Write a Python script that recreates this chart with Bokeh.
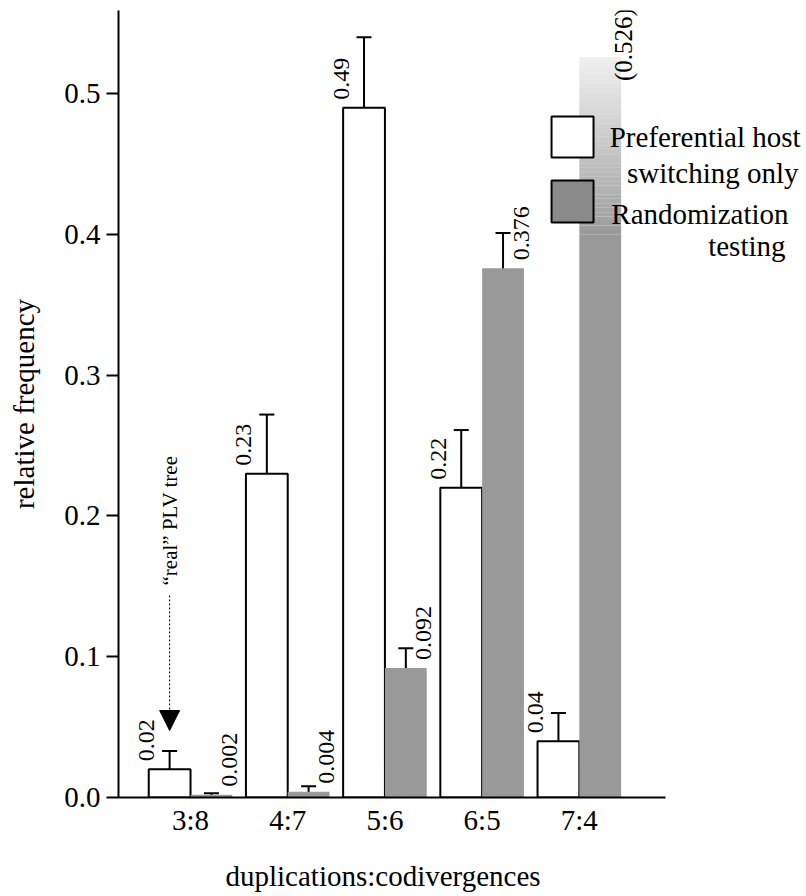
import numpy as np
from bokeh.plotting import figure
from bokeh.models import (ColumnDataSource, Range1d, FixedTicker, Whisker, TeeHead,
                          Arrow, NormalHead, PrintfTickFormatter, Title)
from bokeh.core.properties import value
from bokeh.embed import file_html
from bokeh.resources import INLINE

# ---------------- data ----------------
categories = ["3:8", "4:7", "5:6", "6:5", "7:4"]
pref_values = [0.02, 0.23, 0.49, 0.22, 0.04]
pref_errors = [0.013, 0.042, 0.05, 0.041, 0.02]
pref_labels = ["0.02", "0.23", "0.49", "0.22", "0.04"]
rand_values = [0.002, 0.004, 0.092, 0.376, 0.526]
rand_errors = [0.001, 0.004, 0.014, 0.025, None]
rand_labels = ["0.002", "0.004", "0.092", "0.376", "(0.526)"]
y_ticks = [0.0, 0.1, 0.2, 0.3, 0.4, 0.5]
legend_names = ["Preferential host", "switching only", "Randomization", "testing"]
annotation_text = "\u201creal\u201d PLV tree"
real_tree_category = "3:8"
x_title = "duplications:codivergences"
y_title = "relative frequency"

# ---------------- style ----------------
FONT = "Liberation Serif"
GREY = "#999999"
BW = 0.43
FADE_START = 0.40
X0, X_AXIS_END = -0.741, 4.887

p = figure(width=806, height=896, output_backend="svg", toolbar_location=None,
           x_range=Range1d(X0, 6.337), y_range=Range1d(0, 0.559),
           min_border_left=118, min_border_right=0, min_border_top=10,
           min_border_bottom=99)
p.background_fill_color = "white"
p.border_fill_color = "white"
p.outline_line_color = None
p.grid.visible = False

x = np.arange(len(categories), dtype=float)

# preferential host switching bars (white)
pref_src = ColumnDataSource(dict(
    left=x - BW, right=x, top=pref_values, bottom=[0] * len(x),
    xc=x - BW / 2,
    upper=[v + e for v, e in zip(pref_values, pref_errors)],
    lower=[v - e for v, e in zip(pref_values, pref_errors)],
    lx=x - BW - 0.02, label=pref_labels))
p.quad(left="left", right="right", top="top", bottom="bottom", source=pref_src,
       fill_color="white", line_color="black", line_width=2)

# randomization bars (grey)
solid_idx = [i for i, e in enumerate(rand_errors) if e is not None]
fade_idx = [i for i, e in enumerate(rand_errors) if e is None]
rand_src = ColumnDataSource(dict(
    left=x[solid_idx], right=x[solid_idx] + BW,
    top=[rand_values[i] for i in solid_idx], bottom=[0] * len(solid_idx),
    xc=x[solid_idx] + BW / 2,
    upper=[rand_values[i] + rand_errors[i] for i in solid_idx],
    lower=[max(0, rand_values[i] - rand_errors[i]) for i in solid_idx],
    lx=x[solid_idx] + BW - 0.03, label=[rand_labels[i] for i in solid_idx]))
p.quad(left="left", right="right", top="top", bottom="bottom", source=rand_src,
       fill_color=GREY, line_color=None)

# faded (truncated) bar
for i in fade_idx:
    v = rand_values[i]
    p.quad(left=[x[i]], right=[x[i] + BW], bottom=[0], top=[FADE_START],
           fill_color=GREY, line_color=None)
    n = 40
    edges = np.linspace(FADE_START, v, n + 1)
    t = (np.arange(n) + 0.5) / n
    alphas = 1 - 0.85 * t ** 0.9
    p.quad(left=[x[i]] * n, right=[x[i] + BW] * n, bottom=edges[:-1], top=edges[1:],
           fill_color=GREY, fill_alpha=alphas, line_color=None)
    p.text(x=[x[i] + BW + 0.025], y=[v], text=[rand_labels[i]], angle=np.pi / 2,
           text_align="left", text_baseline="middle", y_offset=24,
           text_font=value(FONT), text_font_size="25px", text_color="black")

# error bars
for src in (pref_src, rand_src):
    w = Whisker(source=src, base="xc", upper="upper", lower="lower", dimension="height",
                line_color="black", line_width=2,
                upper_head=TeeHead(size=15, line_width=2, line_color="black"),
                lower_head=TeeHead(size=15, line_width=2, line_color="black"))
    p.add_layout(w)

# value labels
for src in (pref_src, rand_src):
    p.text(x="lx", y="top", text="label", source=src, angle=np.pi / 2,
           text_align="left", text_baseline="middle", y_offset=-8,
           text_font=value(FONT), text_font_size="24px", text_color="black")

# "real" PLV tree annotation
ri = categories.index(real_tree_category)
ax = x[ri] - BW / 2
p.add_layout(Arrow(x_start=ax, y_start=0.1435, x_end=ax, y_end=0.0476,
                   line_color="black", line_width=1, line_dash="2 2",
                   end=NormalHead(size=20, fill_color="black", line_color="black",
                                  line_width=1)))
p.text(x=[ax], y=[0.1506], text=[annotation_text], angle=np.pi / 2,
       text_align="left", text_baseline="middle",
       text_font=value(FONT), text_font_size="21px", text_color="black")

# legend
p.quad(left=[3.714], right=[4.146], top=[0.4837], bottom=[0.4545],
       fill_color="white", line_color="black", line_width=2)
p.quad(left=[3.714], right=[4.146], top=[0.4382], bottom=[0.4084],
       fill_color="#8a8a8a", line_color="black", line_width=2)
p.text(x=[6.276, 6.255, 6.152, 6.121], y=[0.4688, 0.4439, 0.4148, 0.392],
       text=legend_names, text_align="right", text_baseline="alphabetic",
       text_font=value(FONT), text_font_size="29px", text_color="black")

# axes
p.xaxis.ticker = FixedTicker(ticks=list(x))
p.xaxis.major_label_overrides = {float(i): c for i, c in zip(x, categories)}
p.xaxis.bounds = (X0, X_AXIS_END)
p.yaxis.ticker = FixedTicker(ticks=y_ticks)
p.yaxis.formatter = PrintfTickFormatter(format="%.1f")
for ax_ in (p.xaxis, p.yaxis):
    ax_.axis_line_width = 2
    ax_.axis_line_color = "black"
    ax_.major_tick_line_width = 2
    ax_.major_tick_line_color = "black"
    ax_.minor_tick_line_color = None
    ax_.major_tick_in = 0
    ax_.major_label_text_font = FONT
    ax_.major_label_text_font_size = "29px"
    ax_.major_label_text_color = "black"
    ax_.axis_label_text_font = FONT
    ax_.axis_label_text_font_size = "29px"
    ax_.axis_label_text_font_style = "normal"
    ax_.axis_label_text_color = "black"
p.xaxis.major_tick_out = 0
p.xaxis.major_label_standoff = 6
p.yaxis.major_tick_out = 12
p.yaxis.major_label_standoff = 6
p.yaxis.axis_label = y_title
p.yaxis.axis_label_standoff = 21

# x-axis title, left-aligned so that it is centred under the axis itself
p.add_layout(Title(text=" ", text_font_size="1px", standoff=12), "below")
p.add_layout(Title(text=x_title, align="left", offset=107, standoff=8,
                   text_font=FONT, text_font_size="29px", text_font_style="normal",
                   text_color="black"), "below")

open("out.html", "w").write(file_html(p, INLINE))
